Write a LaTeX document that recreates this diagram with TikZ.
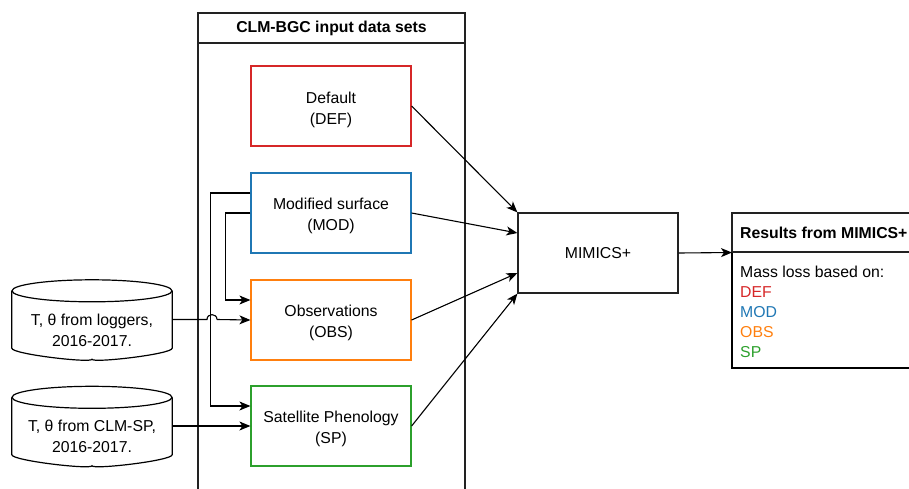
\documentclass[tikz,border=0pt]{standalone}
\usepackage{fontspec}
\setmainfont{Liberation Sans}
\usetikzlibrary{arrows.meta}
\definecolor{cred}{HTML}{D62728}
\definecolor{cblue}{HTML}{1F77B4}
\definecolor{corange}{HTML}{FF7F0E}
\definecolor{cgreen}{HTML}{2CA02C}
\definecolor{cline}{HTML}{222222}
\begin{document}
\begin{tikzpicture}[x=1pt,y=-1pt,
  font=\fontsize{15.8}{21}\selectfont,
  box/.style={draw, line width=1.2pt, minimum width=160pt, minimum height=80pt, align=center, inner sep=0pt},
  arr/.style={-{Stealth[length=11pt,width=9pt,inset=3pt]}, line width=1.1pt, draw=black},
  conn/.style={line width=1.1pt, draw=black},
  lbl/.style={inner sep=0pt, align=center},
  rtxt/.style={anchor=west, inner sep=0pt}]
\useasboundingbox (0,0) rectangle (909,488);
\clip (0,0) rectangle (909,488);

% container
\draw[line width=1.2pt, draw=cline] (198,13) rectangle (465,500);
\draw[line width=1.2pt, draw=cline] (198,43) -- (465,43);
\node[lbl, font=\fontsize{15.8}{21}\selectfont\bfseries] (hdr) at (331.5,28) {CLM-BGC input data sets};

% input boxes
\node[box, draw=cred]    (def) at (331,106) {};
\node[box, draw=cblue]   (mod) at (331,213) {};
\node[box, draw=corange] (obs) at (331,320) {};
\node[box, draw=cgreen]  (sp)  at (331,426) {};
\node[lbl] (deft) at (331,110) {Default\\(DEF)};
\node[lbl] (modt) at (331,216) {Modified surface\\(MOD)};
\node[lbl] (obst) at (331,323) {Observations\\(OBS)};
\node[lbl] (spt)  at (331,429) {Satellite Phenology\\(SP)};

% MIMICS
\node[box, draw=cline] (mim) at (598,253) {MIMICS+};

% results
\draw[line width=1.7pt, draw=black] (732,252) rectangle (930,368);
\draw[line width=1.2pt, draw=cline] (732,213) rectangle (930,252);
\coordinate (resin) at (732,252.5);
\node[rtxt, font=\fontsize{15.8}{21}\selectfont\bfseries] (rhdr) at (740,232.5) {Results from MIMICS+};
\node[rtxt] (r1) at (740,272) {Mass loss based on:};
\node[rtxt, text=cred]    (r2) at (740,292) {DEF};
\node[rtxt, text=cblue]   (r3) at (740,312) {MOD};
\node[rtxt, text=corange] (r4) at (740,332) {OBS};
\node[rtxt, text=cgreen]  (r5) at (740,352) {SP};

% cylinders
\node[minimum width=160pt, minimum height=79pt, inner sep=0pt] (log) at (92,319.5) {};
\node[minimum width=160pt, minimum height=79pt, inner sep=0pt] (clm) at (92,426) {};
\foreach \n in {log,clm}{
  \draw[line width=1.2pt, fill=white]
    ([yshift=-11pt]\n.north west) -- ([yshift=11pt]\n.south west)
    .. controls ([yshift=5pt]\n.south west) and ([yshift=-4.2pt]\n.south) .. ([yshift=0pt]\n.south)
    .. controls ([yshift=-4.2pt]\n.south) and ([yshift=5pt]\n.south east) .. ([yshift=11pt]\n.south east)
    -- ([yshift=-11pt]\n.north east);
  \draw[line width=1.2pt] ([yshift=-11pt]\n.north) ellipse [x radius=80pt, y radius=11pt];
}
\node[lbl] (logt) at (92,330.5) {T, θ from loggers,\\2016-2017.};
\node[lbl] (clmt) at (92,436.5) {T, θ from CLM-SP,\\2016-2017.};

% connectors into MIMICS
\draw[arr] (def.east) -- (mim.north west);
\draw[arr] (mod.east) -- ([yshift=20pt]mim.west);
\draw[arr] (obs.east) -- ([yshift=-20pt]mim.west);
\draw[arr] (sp.east) -- (mim.south west);
\draw[arr] (mim.east) -- (resin);

% MOD feedback lines
\draw[arr] ([yshift=20pt]mod.west) -- ++(-40,0) |- ([yshift=20pt]sp.west);
\draw[arr] (mod.west) -- ++(-25,0) |- ([yshift=20pt]obs.west);

% data inputs
\coordinate (hopa) at (207,319.5);
\coordinate (hopb) at (217,319.5);
\draw[conn] (log.east) -- (hopa) .. controls (207,313) and (217,313) .. (hopb);
\draw[arr] (hopb) -- (obs.west);
\draw[arr] (clm.east) -- (sp.west);
\end{tikzpicture}
\end{document}
